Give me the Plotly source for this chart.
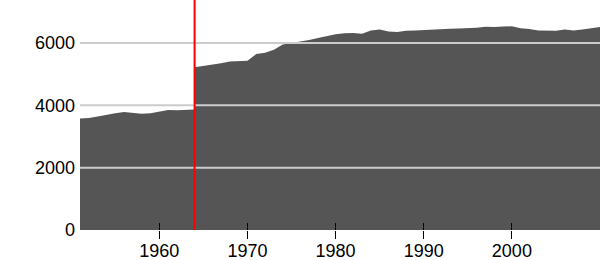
import plotly.graph_objects as go

years = [1951, 1952, 1953, 1954, 1955, 1956, 1957, 1958, 1959, 1960,
         1961, 1962, 1963, 1964, 1964, 1965, 1966, 1967, 1968, 1969,
         1970, 1971, 1972, 1973, 1974, 1975, 1976, 1977, 1978, 1979,
         1980, 1981, 1982, 1983, 1984, 1985, 1986, 1987, 1988, 1989,
         1990, 1991, 1992, 1993, 1994, 1995, 1996, 1997, 1998, 1999,
         2000, 2001, 2002, 2003, 2004, 2005, 2006, 2007, 2008, 2009, 2010]
values = [3580, 3590, 3640, 3700, 3750, 3790, 3750, 3730, 3750, 3800,
          3850, 3840, 3860, 3870, 5220, 5260, 5300, 5350, 5410, 5430,
          5430, 5650, 5690, 5780, 5950, 6000, 6040, 6100, 6160, 6230,
          6280, 6310, 6320, 6300, 6400, 6430, 6370, 6350, 6390, 6400,
          6420, 6440, 6450, 6460, 6465, 6470, 6490, 6520, 6510, 6530,
          6535, 6470, 6450, 6400, 6390, 6390, 6430, 6400, 6430, 6460, 6510]
x_ticks = [1960, 1970, 1980, 1990, 2000]
y_ticks = [0, 2000, 4000, 6000]
grid_levels = [2000, 4000, 6000]
marker_year = 1964

x_range = [1951, 2010]
y_range = [0, 7380]

fig = go.Figure()
fig.add_trace(go.Scatter(
    x=years, y=values, mode="lines", fill="tozeroy",
    fillcolor="#555555", line=dict(width=0, color="#555555"),
    hoverinfo="skip", showlegend=False,
))
# helper trace so the overlaying axis (inside tick halves) is drawn
fig.add_trace(go.Scatter(
    x=years[:1], y=values[:1], xaxis="x2", mode="lines",
    line=dict(width=0), hoverinfo="skip", showlegend=False,
))

for g in grid_levels:
    fig.add_shape(type="line", xref="paper", x0=0, x1=1, yref="y", y0=g, y1=g,
                  line=dict(color="#cccccc", width=2), layer="above")

fig.add_shape(type="line", xref="x", x0=marker_year, x1=marker_year,
              yref="paper", y0=0, y1=1,
              line=dict(color="#ff0000", width=2), layer="above")

font = dict(family="Liberation Sans, Arial, sans-serif", size=18, color="#000000")

fig.update_layout(
    width=600, height=260,
    margin=dict(l=80, r=0, t=0, b=30),
    paper_bgcolor="white", plot_bgcolor="white",
    font=font,
    xaxis=dict(range=x_range, tickvals=x_ticks, ticks="outside", ticklen=8,
               tickwidth=1, tickcolor="#000000", showgrid=False, zeroline=False,
               showline=False, tickfont=font, automargin=False,
               ticklabelstandoff=-4),
    xaxis2=dict(range=x_range, overlaying="x", anchor="y", side="bottom",
                tickvals=x_ticks, ticks="inside", ticklen=7, tickwidth=1,
                tickcolor="#000000", showticklabels=False, showgrid=False,
                zeroline=False, showline=False, automargin=False),
    yaxis=dict(range=y_range, tickvals=y_ticks, ticks="", showgrid=False,
               zeroline=False, showline=False, tickfont=font,
               ticklabelstandoff=4, automargin=False),
)

fig.write_html("out.html")
